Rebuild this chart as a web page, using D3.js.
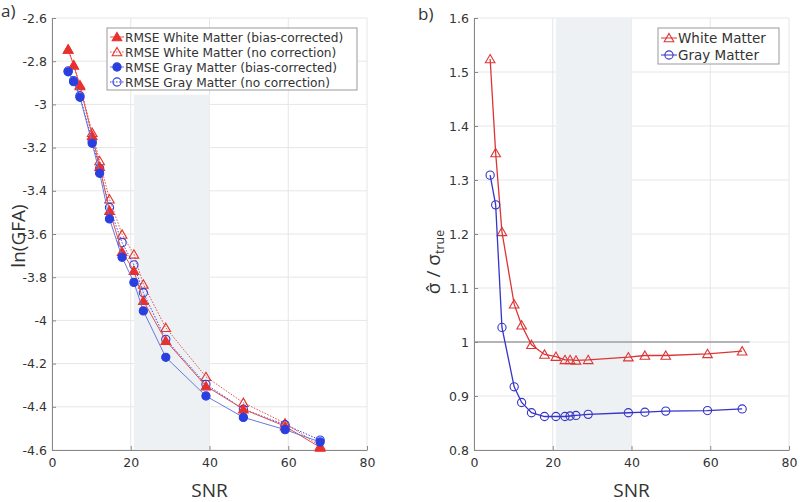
<!DOCTYPE html>
<html>
<head>
<meta charset="utf-8">
<script src="https://cdn.jsdelivr.net/npm/d3@7"></script>
<style>
  body { margin: 0; background: #fff; }
  text { font-family: 'DejaVu Sans', sans-serif; fill: #333; }
</style>
</head>
<body>
<svg width="800" height="502"></svg>
<script>
// SNR values (panel a uses a subset)
const snrA = [4.1, 5.5, 7.1, 10.2, 12.1, 14.6, 17.8, 20.8, 23.2, 28.9, 39.1, 48.6, 59.2, 68.1];
const wmCorrected = [-2.745, -2.818, -2.915, -3.145, -3.288, -3.492, -3.682, -3.770, -3.909, -4.094, -4.304, -4.411, -4.490, -4.588];
const wmNoCorr = [-2.745, -2.818, -2.910, -3.131, -3.262, -3.439, -3.602, -3.694, -3.833, -4.034, -4.261, -4.381, -4.476, -4.581];
const gmCorrected = [-2.849, -2.895, -2.967, -3.180, -3.319, -3.530, -3.708, -3.824, -3.956, -4.171, -4.350, -4.449, -4.506, -4.563];
const gmNoCorr = [-2.845, -2.890, -2.960, -3.170, -3.296, -3.477, -3.640, -3.743, -3.872, -4.088, -4.296, -4.411, -4.483, -4.554];

const snrB = [4.1, 5.5, 7.1, 10.2, 12.1, 14.6, 17.9, 20.8, 23.1, 24.4, 25.9, 29.0, 39.2, 43.4, 48.7, 59.3, 68.1];
const wmRatio = [1.524, 1.350, 1.204, 1.070, 1.031, 0.995, 0.977, 0.973, 0.967, 0.967, 0.966, 0.967, 0.972, 0.975, 0.975, 0.978, 0.983];
const gmRatio = [1.309, 1.254, 1.027, 0.917, 0.888, 0.869, 0.862, 0.862, 0.862, 0.863, 0.864, 0.866, 0.869, 0.870, 0.872, 0.873, 0.876];

const xTicks = [0, 20, 40, 60, 80];
const yTicksA = [-2.6, -2.8, -3, -3.2, -3.4, -3.6, -3.8, -4, -4.2, -4.4, -4.6];
const yTicksB = [0.8, 0.9, 1, 1.1, 1.2, 1.3, 1.4, 1.5, 1.6];
const shadeRange = [20.8, 40];

const red = '#e8302c', blue = '#2a3fe0';
const svg = d3.select('svg');

function frame(x, y, yTicks) {
  const g = svg.append('g');
  const [x0, x1] = x.range(), [y1, y0] = y.range();
  g.selectAll('.gx').data(xTicks).enter().append('line')
    .attr('x1', (d) => x(d)).attr('x2', (d) => x(d))
    .attr('y1', y0).attr('y2', y1)
    .attr('stroke', '#e6e6e6');
  g.selectAll('.gy').data(yTicks).enter().append('line')
    .attr('x1', x0).attr('x2', x1)
    .attr('y1', (d) => y(d)).attr('y2', (d) => y(d))
    .attr('stroke', '#e6e6e6');
  return g;
}

function axes(x, y, yTicks, fmt) {
  const [x0] = x.range(), [y1] = y.range();
  const ax = svg.append('g')
    .attr('transform', `translate(0,${y1})`)
    .call(d3.axisBottom(x).tickValues(xTicks).tickSize(-4).tickSizeOuter(0).tickPadding(8).tickFormat(d3.format('d')));
  const ay = svg.append('g')
    .attr('transform', `translate(${x0},0)`)
    .call(d3.axisLeft(y).tickValues(yTicks).tickSize(-4).tickSizeOuter(0).tickPadding(5).tickFormat(fmt));
  [ax, ay].forEach((a) => {
    a.select('.domain').attr('stroke', '#888');
    a.selectAll('.tick line').attr('stroke', '#888');
    a.selectAll('text').style('font-family', 'DejaVu Sans').attr('font-size', 12.5).attr('fill', '#383838');
  });
}

const tri = d3.symbol().type(d3.symbolTriangle).size(40);

function series(g, x, y, xs, ys, o) {
  const pts = xs.map((d, i) => [d, ys[i]]);
  g.append('path')
    .datum(pts)
    .attr('fill', 'none')
    .attr('stroke', o.lineColor)
    .attr('stroke-width', o.width || 1)
    .attr('stroke-dasharray', o.dash || null)
    .attr('d', d3.line().x((d) => x(d[0])).y((d) => y(d[1])));
  marks(g, pts.map((d) => [x(d[0]), y(d[1])]), o);
}

function marks(g, pts, o) {
  if (o.shape === 'tri') {
    g.selectAll(null).data(pts).enter().append('path')
      .attr('transform', (d) => `translate(${d[0]},${d[1] + 1})`)
      .attr('d', tri)
      .attr('fill', o.filled ? o.color : 'none')
      .attr('stroke', o.color)
      .attr('stroke-width', 1.1);
  } else {
    g.selectAll(null).data(pts).enter().append('circle')
      .attr('cx', (d) => d[0]).attr('cy', (d) => d[1])
      .attr('r', o.filled ? 4.1 : 4.1)
      .attr('fill', o.filled ? o.color : 'none')
      .attr('stroke', o.color)
      .attr('stroke-width', 1.1);
  }
}

// ---------- panel a ----------
const xA = d3.scaleLinear().domain([0, 80]).range([52, 367]);
const yA = d3.scaleLinear().domain([-4.6, -2.6]).range([450, 18]);
const gA = frame(xA, yA, yTicksA);
gA.append('rect')
  .attr('x', xA(shadeRange[0])).attr('width', xA(shadeRange[1]) - xA(shadeRange[0]))
  .attr('y', yA(-2.955)).attr('height', yA(-4.6) - yA(-2.955))
  .attr('fill', '#eef1f3');
axes(xA, yA, yTicksA, (d) => d3.format('')(d).replace('−', '-'));

const seriesA = [
  { ys: wmNoCorr, shape: 'tri', filled: false, color: red, lineColor: '#e0504c', dash: '1.5,1.5', label: 'RMSE White Matter (no correction)' },
  { ys: gmNoCorr, shape: 'circle', filled: false, color: blue, lineColor: '#3a46d8', dash: '1.5,1.5', label: 'RMSE Gray Matter (no correction)' },
  { ys: wmCorrected, shape: 'tri', filled: true, color: red, lineColor: '#e0504c', label: 'RMSE White Matter (bias-corrected)' },
  { ys: gmCorrected, shape: 'circle', filled: true, color: blue, lineColor: '#6a78dc', label: 'RMSE Gray Matter (bias-corrected)' }
];
seriesA.forEach((s) => series(svg.append('g'), xA, yA, snrA, s.ys, s));

// legend a
const legA = svg.append('g').attr('transform', 'translate(107,28)');
legA.append('rect').attr('width', 250).attr('height', 62).attr('fill', '#fff').attr('stroke', '#999');
[seriesA[2], seriesA[0], seriesA[3], seriesA[1]].forEach((s, i) => {
  const yy = 9 + i * 15;
  legA.append('line').attr('x1', 3).attr('x2', 17).attr('y1', yy).attr('y2', yy)
    .attr('stroke', s.lineColor).attr('stroke-dasharray', s.dash || null);
  marks(legA, [[10, yy]], s);
  legA.append('text').attr('x', 18).attr('y', yy + 4.5).attr('font-size', 12.2).text(s.label);
});

// ---------- panel b ----------
const xB = d3.scaleLinear().domain([0, 80]).range([474, 789]);
const yB = d3.scaleLinear().domain([0.8, 1.6]).range([450, 18]);
const gB = frame(xB, yB, yTicksB);
gB.append('rect')
  .attr('x', xB(shadeRange[0])).attr('width', xB(shadeRange[1]) - xB(shadeRange[0]))
  .attr('y', yB(1.6)).attr('height', yB(0.8) - yB(1.6))
  .attr('fill', '#eef1f3');
axes(xB, yB, yTicksB, d3.format(''));
gB.append('line')
  .attr('x1', xB(0)).attr('x2', xB(70)).attr('y1', yB(1)).attr('y2', yB(1))
  .attr('stroke', '#777').attr('stroke-width', 1.2);

const seriesB = [
  { ys: wmRatio, shape: 'tri', filled: false, color: '#dd3535', lineColor: '#dd3535', width: 1.3, label: 'White Matter' },
  { ys: gmRatio, shape: 'circle', filled: false, color: '#3535c8', lineColor: '#3535c8', width: 1.3, label: 'Gray Matter' }
];
seriesB.forEach((s) => series(svg.append('g'), xB, yB, snrB, s.ys, s));

const legB = svg.append('g').attr('transform', 'translate(658,28)');
legB.append('rect').attr('width', 121).attr('height', 36).attr('fill', '#fff').attr('stroke', '#999');
seriesB.forEach((s, i) => {
  const yy = 10 + i * 17;
  legB.append('line').attr('x1', 3).attr('x2', 19).attr('y1', yy).attr('y2', yy).attr('stroke', s.lineColor);
  marks(legB, [[11, yy]], s);
  legB.append('text').attr('x', 20).attr('y', yy + 5).attr('font-size', 13.5).text(s.label);
});

// ---------- labels ----------
svg.append('text').attr('x', 1).attr('y', 17).attr('font-size', 17).style('font-family', 'Open Sans').text('a)');
svg.append('text').attr('x', 418).attr('y', 20).attr('font-size', 17).style('font-family', 'Open Sans').text('b)');
svg.append('text').attr('x', xA(40)).attr('y', 497).attr('text-anchor', 'middle')
  .attr('font-size', 19).style('font-family', 'Open Sans').text('SNR');
svg.append('text').attr('x', xB(40)).attr('y', 497).attr('text-anchor', 'middle')
  .attr('font-size', 19).style('font-family', 'Open Sans').text('SNR');
svg.append('text').attr('transform', 'translate(25,236) rotate(-90)').attr('text-anchor', 'middle')
  .attr('font-size', 19).style('font-family', 'Open Sans').text('ln(GFA)');
const yl = svg.append('text').attr('transform', 'translate(440,262) rotate(-90)').attr('text-anchor', 'middle')
  .attr('font-size', 19).style('font-family', 'Open Sans');
yl.append('tspan').text('σ\u0302 / σ');
yl.append('tspan').attr('font-size', 12.5).attr('dy', 4).text('true');
</script>
</body>
</html>
